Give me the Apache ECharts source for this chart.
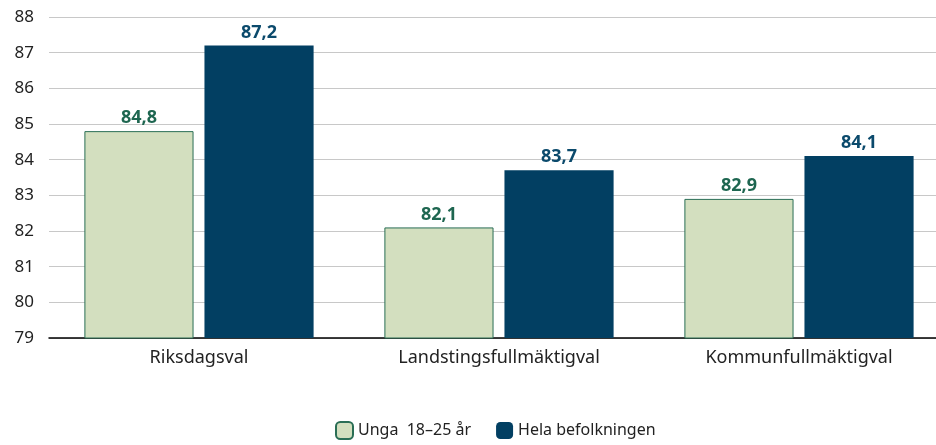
<!DOCTYPE html>
<html>
<head>
<meta charset="utf-8">
<script src="https://cdn.jsdelivr.net/npm/echarts@6/dist/echarts.min.js"></script>
<style>
  html, body { margin: 0; padding: 0; background: #fff; }
  #chart { width: 936px; height: 445px; }
</style>
</head>
<body>
<div id="chart"></div>
<script>
// data
const categories = ["Riksdagsval", "Landstingsfullmäktigval", "Kommunfullmäktigval"];
const unga = [84.8, 82.1, 82.9];
const hela = [87.2, 83.7, 84.1];
const seriesNames = ["Unga  18–25 år", "Hela befolkningen"];

const font = "'Noto Sans', 'Open Sans', sans-serif";
const fmt = p => p.value.toFixed(1).replace(".", ",");

const chart = echarts.init(document.getElementById("chart"));
chart.setOption({
  animation: false,
  textStyle: { fontFamily: font },
  // the plot runs past the right edge of the picture, like the original
  grid: { left: 49, right: -13, top: 17, bottom: 107, outerBoundsMode: "none" },
  legend: {
    bottom: 0,
    left: 330,
    itemWidth: 17,
    itemHeight: 17,
    itemGap: 25,
    textStyle: { fontSize: 16, color: "#222", fontFamily: font },
    data: seriesNames
  },
  xAxis: {
    type: "category",
    data: categories,
    axisLine: { lineStyle: { color: "#000", width: 1.5 } },
    axisTick: { show: false },
    axisLabel: { fontSize: 18, color: "#222", margin: 11, fontFamily: font }
  },
  yAxis: {
    type: "value",
    min: 79,
    max: 88,
    interval: 1,
    axisLine: { show: false },
    axisTick: { show: false },
    axisLabel: { fontSize: 17, color: "#222", margin: 15, fontFamily: font },
    splitLine: { lineStyle: { color: "#c8c8c8", width: 1 } }
  },
  series: [
    {
      name: seriesNames[0],
      type: "bar",
      data: unga,
      barGap: "10%",
      barCategoryGap: "23.6%",
      itemStyle: { color: "#d3dfbf", borderColor: "#2a6e55", borderWidth: 1 },
      label: {
        show: true, position: "top", distance: 4, formatter: fmt,
        fontSize: 18, fontWeight: "bold", color: "#1e6650", fontFamily: font
      }
    },
    {
      name: seriesNames[1],
      type: "bar",
      data: hela,
      itemStyle: { color: "#023f62" },
      label: {
        show: true, position: "top", distance: 4, formatter: fmt,
        fontSize: 18, fontWeight: "bold", color: "#0b4a6c", fontFamily: font
      }
    }
  ]
});
</script>
</body>
</html>
